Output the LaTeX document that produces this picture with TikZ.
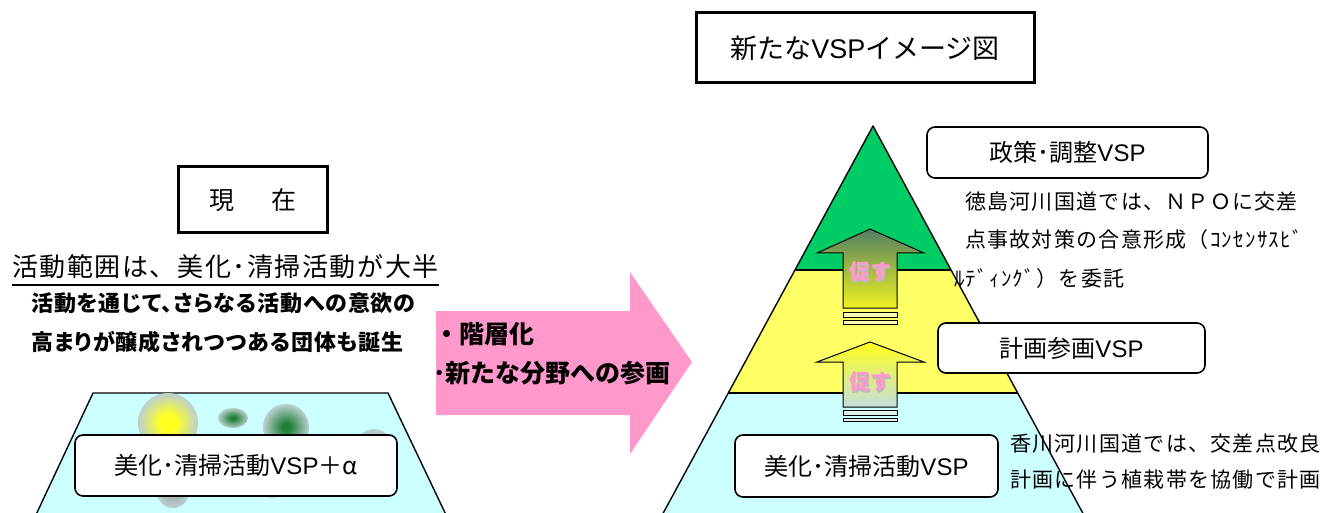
\documentclass[tikz,border=0pt]{standalone}
\usepackage{fontspec}
\newfontfamily\jp{Noto Sans CJK JP}
\newfontfamily\jpsp[LetterSpace=6]{Noto Sans CJK JP}
\newfontfamily\jpp[RawFeature=+palt,LetterSpace=4]{Noto Sans CJK JP}
\newfontfamily\lat{Liberation Sans}
\newcommand{\vsp}{{\lat VSP}}
\definecolor{pgreen}{HTML}{00CC66}
\definecolor{pyellow}{HTML}{FFFF66}
\definecolor{pcyan}{HTML}{CCFFFF}
\definecolor{ppink}{HTML}{FF99CC}
\definecolor{blobout}{HTML}{BCD0D0}
\definecolor{blobyel}{HTML}{FFFF22}
\definecolor{blobgrn}{HTML}{1F7F35}
\definecolor{arrdark}{HTML}{4F7F62}
\definecolor{arryel}{HTML}{F2F222}
\definecolor{arrpale}{HTML}{C4DEDE}
\pgfdeclareradialshading{blobY}{\pgfpoint{0bp}{0bp}}{color(0bp)=(blobyel); color(7bp)=(blobyel); color(25bp)=(blobout); color(50bp)=(blobout)}
\pgfdeclareradialshading{blobG}{\pgfpoint{0bp}{0bp}}{color(0bp)=(blobgrn); color(4bp)=(blobgrn); color(25bp)=(blobout); color(50bp)=(blobout)}
\pgfdeclareradialshading{blobE}{\pgfpoint{0bp}{0bp}}{color(0bp)=(blobout!80!black); color(25bp)=(blobout); color(50bp)=(blobout)}
\tikzset{
  sq/.style={draw, line width=3pt, fill=white, inner sep=0pt},
  rbox/.style={draw, line width=1.6pt, rounded corners=8pt, fill=white, inner sep=0pt},
  txt/.style={inner sep=0pt, anchor=west},
  outl/.style={line width=1.4pt, line join=round},
  upar/.style={draw, line width=1pt},
  bar/.style={draw, line width=1pt},
  push/.style={inner sep=0pt, text=ppink, font=\jp\bfseries\fontsize{21}{24}\selectfont},
  pushsh/.style={inner sep=0pt, text=gray!55, font=\jp\bfseries\fontsize{21}{24}\selectfont}
}
\begin{document}
\begin{tikzpicture}[x=1pt,y=-1pt]
\useasboundingbox (0,0) rectangle (1323,513);
\begin{scope}
\clip (0,0) rectangle (1323,513);
% left trapezoid
\fill[pcyan] (93,393)--(388,393)--(448,519)--(34,519)--cycle;
\draw[outl] (34,519)--(93,393)--(388,393)--(448,519);
% blobs
\shade[shading=blobY] (168,423) circle (30);
\shade[shading=blobG] (233,418) ellipse (15 and 10);
\shade[shading=blobG] (286,427) circle (23);
\shade[shading=blobE] (374,447) circle (18);
\shade[shading=blobE] (173,492) circle (16);
\shade[shading=blobE] (272,485) circle (13);
% pyramid
\fill[pgreen] (873,126)--(951.1,270)--(794.9,270)--cycle;
\fill[pyellow] (794.9,270)--(951.1,270)--(1017.9,393)--(728.1,393)--cycle;
\fill[pcyan] (728.1,393)--(1017.9,393)--(1086,519)--(660,519)--cycle;
\draw[outl] (660,519)--(873,126)--(1086,519);
\draw[outl] (794.9,270)--(951.1,270);
\draw[outl] (728.1,393)--(1017.9,393);
\end{scope}

% pink arrow
\fill[ppink] (436,311)--(630,311)--(630,272)--(692,362)--(630,454)--(630,415)--(436,415)--cycle;
\node[txt, font=\jp\bfseries\fontsize{25}{28}\selectfont] (lv1) at (434,334) {・階層化};
\node[txt, font=\jp\bfseries\fontsize{25}{28}\selectfont] (lv2) at (433,373) {･新たな分野への参画};

% up arrows
\shade[top color=arrdark, bottom color=arryel] (870,229)--(924,253)--(897,253)--(897,308)--(843,308)--(843,253)--(817,253)--cycle;
\draw[upar] (870,229)--(924,253)--(897,253)--(897,308)--(843,308)--(843,253)--(817,253)--cycle;
\draw[bar, fill=yellow!30] (843,312) rectangle (897,317);
\draw[bar, fill=yellow!30] (843,320) rectangle (897,324);
\node[pushsh] (p1s) at (871.5,273.5) {促す};
\node[push] (p1) at (870,272) {促す};

\shade[top color=yellow!90, bottom color=arrpale] (870,342)--(924,362)--(897,362)--(897,407)--(843,407)--(843,362)--(817,362)--cycle;
\draw[upar] (870,342)--(924,362)--(897,362)--(897,407)--(843,407)--(843,362)--(817,362)--cycle;
\draw[bar, fill=arrpale!50] (843,410) rectangle (897,415);
\draw[bar, fill=arrpale!50] (843,418) rectangle (897,421);
\node[pushsh] (p2s) at (871.5,383.5) {促す};
\node[push] (p2) at (870,382) {促す};

% title boxes
\node[sq, minimum width=338, minimum height=70, font=\jp\fontsize{27}{30}\selectfont] (title) at (865,48) {新たな\vsp イメージ図};
\node[sq, minimum width=149, minimum height=66, font=\jp\fontsize{25}{30}\selectfont] (now) at (252.5,200) {現\hspace{37pt}在};

% left texts
\node[txt, font=\jpsp\fontsize{26}{30}\selectfont] (range) at (12,267) {活動範囲は、美化･清掃活動が大半};
\draw[line width=1.3pt] (range.south west |- 0,285) -- (range.south east |- 0,285);
\node[txt, font=\jpp\bfseries\fontsize{22}{26}\selectfont] (b1) at (31,303) {活動を通じて、さらなる活動への意欲の};
\node[txt, font=\jpp\bfseries\fontsize{22}{26}\selectfont] (b2) at (31,342) {高まりが醸成されつつある団体も誕生};

\node[rbox, minimum width=322, minimum height=61, font=\jp\fontsize{24}{28}\selectfont] (cur) at (236,465.5) {美化･清掃活動\vsp＋α};

% right boxes
\node[rbox, minimum width=281, minimum height=51, font=\jp\fontsize{24}{28}\selectfont] (pol) at (1067.5,152.5) {政策･調整\vsp};
\node[rbox, minimum width=267, minimum height=50, font=\jp\fontsize{24}{28}\selectfont] (plan) at (1071.5,348) {計画参画\vsp};
\node[rbox, minimum width=263, minimum height=62, font=\jp\fontsize{24}{28}\selectfont] (clean) at (866.5,466) {美化･清掃活動\vsp};

% right paragraphs
\node[txt, font=\jpsp\fontsize{21}{24}\selectfont] (t1) at (965,202) {徳島河川国道では、ＮＰＯに交差};
\node[txt, font=\jpsp\fontsize{21}{24}\selectfont] (t2) at (965,240) {点事故対策の合意形成（ｺﾝｾﾝｻｽﾋﾞ};
\node[txt, font=\jpsp\fontsize{21}{24}\selectfont] (t3) at (954,279) {ﾙﾃﾞｨﾝｸﾞ）を委託};
\node[txt, font=\jpsp\fontsize{21}{24}\selectfont] (k1) at (1010,444) {香川河川国道では、交差点改良};
\node[txt, font=\jpsp\fontsize{21}{24}\selectfont] (k2) at (1010,480) {計画に伴う植栽帯を協働で計画};
\end{tikzpicture}
\end{document}
